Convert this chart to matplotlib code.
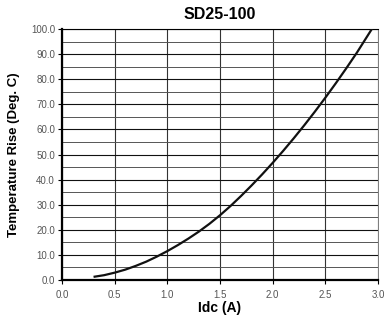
import matplotlib
matplotlib.use("Agg")
import matplotlib.pyplot as plt

# curve
idc = [0.31, 0.4, 0.5, 0.6, 0.7, 0.8, 0.9, 1.0, 1.1, 1.2, 1.3, 1.4, 1.5, 1.6, 1.7,
       1.8, 1.9, 2.0, 2.1, 2.2, 2.3, 2.4, 2.5, 2.6, 2.7, 2.8, 2.94]
temp_rise = [1.3, 1.9, 2.9, 4.1, 5.6, 7.3, 9.3, 11.5, 13.9, 16.5, 19.3, 22.4, 25.8, 29.5, 33.5,
             37.7, 42.1, 46.7, 51.5, 56.5, 61.7, 67.1, 72.7, 78.5, 84.5, 90.7, 100.0]

x_ticks = [0.0, 0.5, 1.0, 1.5, 2.0, 2.5, 3.0]
y_ticks = [0, 10, 20, 30, 40, 50, 60, 70, 80, 90, 100]
y_minor = [5, 15, 25, 35, 45, 55, 65, 75, 85, 95]

plt.rcParams["font.family"] = ["Liberation Sans", "DejaVu Sans"]

fig = plt.figure(figsize=(3.85, 3.24), dpi=100)
ax = fig.add_axes([0.161, 0.136, 0.821, 0.774])

ax.set_xlim(0, 3.0)
ax.set_ylim(0, 100)

ax.set_xticks(x_ticks)
ax.set_xticklabels([f"{v:.1f}" for v in x_ticks])
ax.set_yticks(y_ticks)
ax.set_yticklabels([f"{v:.1f}" for v in y_ticks])
ax.set_yticks(y_minor, minor=True)

ax.grid(True, which="major", axis="y", color="#111111", linewidth=0.8)
ax.grid(True, which="minor", axis="y", color="#555555", linewidth=0.7)
ax.grid(True, which="major", axis="x", color="#333333", linewidth=0.8)

ax.plot(idc, temp_rise, color="#111111", linewidth=1.6, zorder=3)

ax.spines["right"].set_linewidth(0.6)
ax.spines["right"].set_color("#666666")
ax.spines["top"].set_linewidth(0.8)
ax.spines["left"].set_linewidth(1.6)
ax.spines["bottom"].set_linewidth(1.6)

ax.tick_params(axis="both", which="major", labelsize=7, labelcolor="#555555",
               length=3, width=0.8, pad=2)
ax.tick_params(axis="x", pad=4)
ax.tick_params(axis="y", which="minor", length=0)

ax.set_title("SD25-100", fontsize=11.5, fontweight="bold", pad=7)
ax.set_xlabel("Idc (A)", fontsize=10, fontweight="bold", labelpad=1)
ax.set_ylabel("Temperature Rise (Deg. C)", fontsize=9.5, fontweight="bold", labelpad=8)

fig.savefig("out.png", dpi=100)
